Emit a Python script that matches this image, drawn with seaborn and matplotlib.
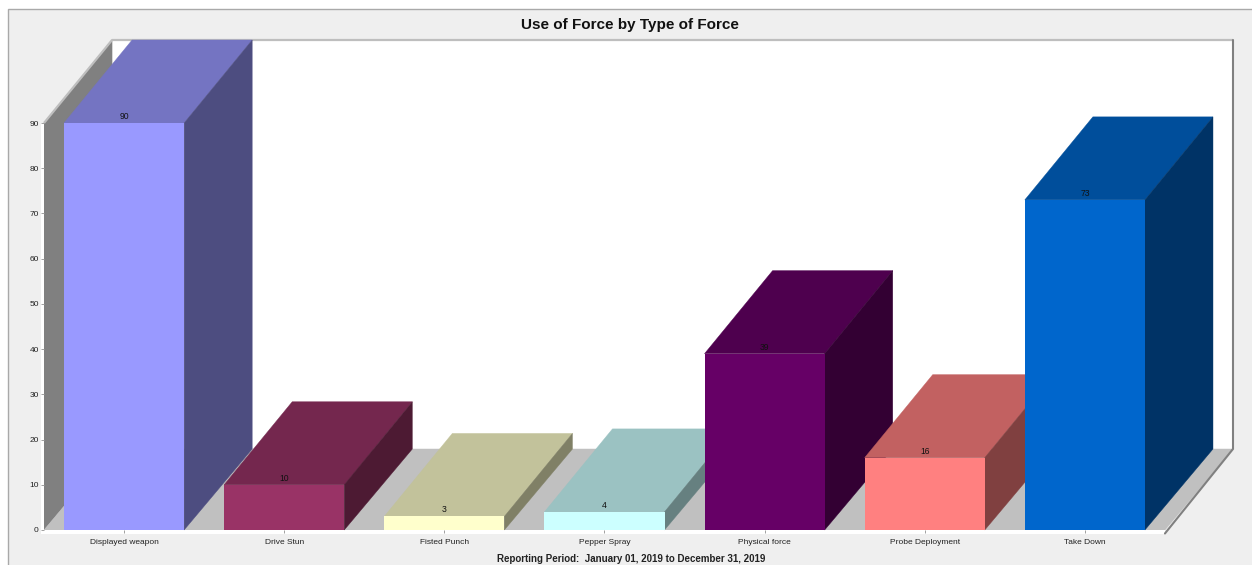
import matplotlib
matplotlib.use('Agg')
import matplotlib.pyplot as plt
import seaborn as sns
from matplotlib.colors import to_rgb
from matplotlib.patches import Polygon, Rectangle

categories = ['Displayed weapon', 'Drive Stun', 'Fisted Punch', 'Pepper Spray',
              'Physical force', 'Probe Deployment', 'Take Down']
values = [90, 10, 3, 4, 39, 16, 73]
colors = ['#9999FF', '#993366', '#FFFFCC', '#CCFFFF', '#660066', '#FF8080', '#0066CC']
yticks = list(range(0, 100, 10))

title = 'Use of Force by Type of Force'
footer = 'Reporting Period:  January 01, 2019 to December 31, 2019'

sns.set_theme(style='white')
plt.rcParams['font.family'] = ['Liberation Sans', 'DejaVu Sans']

W, H = 1252, 565
PX_X = 160.0     # pixels per category
PX_Y = 4.522     # pixels per count
DX = 68 / PX_X   # depth of the fake 3d box, in data units
DY = 83 / PX_Y
FLOOR_DY = 81 / PX_Y

fig = plt.figure(figsize=(W / 100, H / 100), dpi=100, facecolor='white')
fig.patches.append(Rectangle((7.5 / W, -0.01), 1.01, 1.01 - 8.5 / H, transform=fig.transFigure,
                             facecolor='#EFEFEF', edgecolor='#A9A9A9', linewidth=1, zorder=-1))

ax = fig.add_axes([44 / W, 35 / H, 1189 / W, 490 / H])
ax.patch.set_alpha(0)

sns.barplot(x=categories, y=values, hue=categories, palette=colors, hue_order=categories,
            order=categories, legend=False, width=0.75, saturation=1, linewidth=0, ax=ax)

x0, x1 = -0.5, len(categories) - 0.5
top = max(yticks)
ax.set_xlim(x0, x1 + DX)
ax.set_ylim(0, top + DY)
sns.despine(ax=ax, left=True, bottom=True)


def poly(pts, color, z, **kw):
    ax.add_patch(Polygon(pts, closed=True, facecolor=color, edgecolor=color,
                         linewidth=0.3, zorder=z, clip_on=False, **kw))


def shade(color, k):
    return tuple(c * k for c in to_rgb(color))


# walls and floor of the box
poly([(x0 + DX, FLOOR_DY), (x1 + DX, FLOOR_DY), (x1 + DX, top + DY), (x0 + DX, top + DY)],
     'white', 0.1)
poly([(x0, 0), (x0 + DX, FLOOR_DY), (x0 + DX, top + DY), (x0, top)], '#808080', 0.2)
poly([(x0, 0), (x0 + DX, FLOOR_DY), (x1 + DX, FLOOR_DY), (x1, 0)], '#C0C0C0', 0.2)

# white strip under and left of the box
band_x = 3 / PX_X
band_y = 3.5 / PX_Y
ax.add_patch(Rectangle((x0 - band_x, -band_y), x1 - x0 + band_x, band_y, facecolor='white',
                       edgecolor='none', zorder=0.3, clip_on=False))
ax.add_patch(Rectangle((x0 - band_x, 0), band_x, top, facecolor='white',
                       edgecolor='none', zorder=0.3, clip_on=False))

ax.plot([x0, x0 + DX, x1 + DX], [top, top + DY, top + DY], color='#BEBEBE', lw=1.6,
        zorder=0.4, clip_on=False, solid_capstyle='butt')
ax.plot([x1 + DX, x1 + DX, x1], [top + DY, FLOOR_DY, -band_y], color='#808080', lw=1.5,
        zorder=0.4, clip_on=False)

# faces of each bar, left to right so later bars cover earlier ones
for i, cont in enumerate(ax.containers):
    bar = cont[0]
    left, w, h = bar.get_x(), bar.get_width(), bar.get_height()
    base = 1 + i
    color = colors[i]
    poly([(left, h), (left + DX, h + DY), (left + w + DX, h + DY), (left + w, h)],
         shade(color, 0.76), base)
    poly([(left + w, 0), (left + w + DX, FLOOR_DY), (left + w + DX, h + DY), (left + w, h)],
         shade(color, 0.5), base + 0.1)
    bar.set_zorder(base + 0.2)
    bar.set_clip_on(False)

for i, cont in enumerate(ax.containers):
    for lab in ax.bar_label(cont, padding=1.5, fontsize=6.2, color='#111111'):
        lab.set_zorder(50)

ax.set_yticks(yticks)
ax.set_xlabel('')
ax.set_ylabel('')
ax.tick_params(axis='both', which='major', length=2.2, width=0.7, color='#A0A0A0',
               labelsize=6, labelcolor='#222222')
ax.tick_params(axis='y', pad=1.5, left=True)
ax.tick_params(axis='x', pad=4.5, bottom=True)

fig.text(630 / W, 1 - 25 / H, title, ha='center', va='center', fontsize=11,
         fontweight='bold', color='#111111')
fig.text(631 / W, 1 - 559.5 / H, footer, ha='center', va='center', fontsize=7,
         fontweight='bold', color='#222222')

fig.savefig('out.png', dpi=100)
